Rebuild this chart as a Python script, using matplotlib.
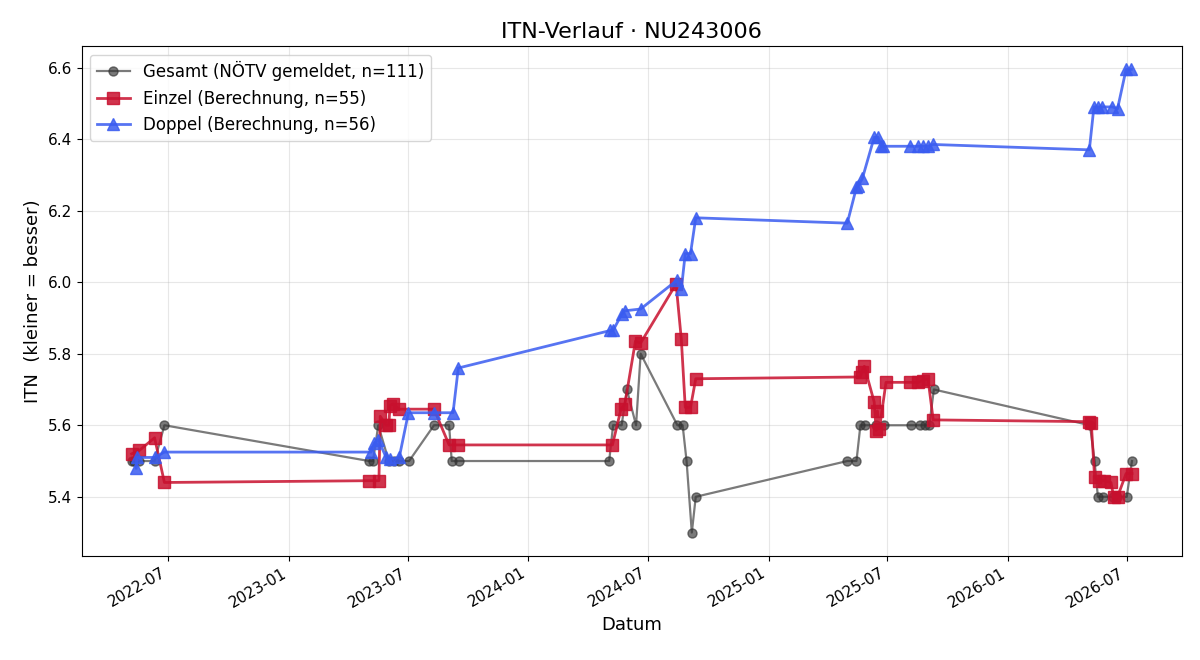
import pandas as pd
import matplotlib
matplotlib.use("Agg")
import matplotlib.pyplot as plt
import matplotlib.dates as mdates

# Gesamt (NÖTV gemeldet)
gesamt_dates = [
    "2022-05-06", "2022-05-10", "2022-05-18", "2022-06-10", "2022-06-25",
    "2023-05-03", "2023-05-09", "2023-05-17", "2023-06-02", "2023-06-10",
    "2023-06-18", "2023-07-03", "2023-08-10", "2023-09-02", "2023-09-06",
    "2023-09-17", "2024-05-03", "2024-05-09", "2024-05-22", "2024-05-30",
    "2024-06-13", "2024-06-20", "2024-08-15", "2024-08-23", "2024-08-29",
    "2024-09-06", "2024-09-12", "2025-05-01", "2025-05-15", "2025-05-21",
    "2025-05-28", "2025-06-14", "2025-06-26", "2025-08-06", "2025-08-20",
    "2025-08-28", "2025-09-03", "2025-09-10", "2026-05-06", "2026-05-13",
    "2026-05-18", "2026-05-26", "2026-06-10", "2026-06-16", "2026-07-01",
    "2026-07-09",
]
gesamt_itn = [
    5.5, 5.5, 5.5, 5.5, 5.6,
    5.5, 5.5, 5.6, 5.5, 5.5,
    5.5, 5.5, 5.6, 5.6, 5.5,
    5.5, 5.5, 5.6, 5.6, 5.7,
    5.6, 5.8, 5.6, 5.6, 5.5,
    5.3, 5.4, 5.5, 5.5, 5.6,
    5.6, 5.6, 5.6, 5.6, 5.6,
    5.6, 5.6, 5.7, 5.6, 5.5,
    5.4, 5.4, 5.4, 5.4, 5.4,
    5.5,
]

# Einzel (Berechnung)
einzel_dates = [
    "2022-05-06", "2022-05-18", "2022-06-10", "2022-06-25",
    "2023-05-03", "2023-05-18", "2023-05-20", "2023-05-29", "2023-06-02",
    "2023-06-04", "2023-06-08", "2023-06-18", "2023-08-10", "2023-09-02",
    "2023-09-16", "2024-05-08", "2024-05-21", "2024-05-27", "2024-06-12",
    "2024-06-20", "2024-08-13", "2024-08-21", "2024-08-27", "2024-09-04",
    "2024-09-12", "2025-05-21", "2025-05-23", "2025-05-27", "2025-06-11",
    "2025-06-14", "2025-06-16", "2025-06-19", "2025-06-29", "2025-08-05",
    "2025-08-17", "2025-08-24", "2025-09-01", "2025-09-09", "2026-05-05",
    "2026-05-08", "2026-05-13", "2026-05-19", "2026-05-27", "2026-06-07",
    "2026-06-11", "2026-06-17", "2026-06-30", "2026-07-09",
]
einzel_itn = [
    5.52, 5.53, 5.565, 5.44,
    5.445, 5.445, 5.625, 5.60, 5.60,
    5.655, 5.66, 5.645, 5.645, 5.545,
    5.545, 5.545, 5.645, 5.66, 5.835,
    5.83, 5.995, 5.84, 5.65, 5.65,
    5.73, 5.735, 5.75, 5.765, 5.665,
    5.585, 5.64, 5.59, 5.72, 5.72,
    5.72, 5.725, 5.73, 5.615, 5.61,
    5.605, 5.455, 5.445, 5.445, 5.44,
    5.40, 5.40, 5.465, 5.465,
]

# Doppel (Berechnung)
doppel_dates = [
    "2022-05-13", "2022-05-14", "2022-06-10", "2022-06-25",
    "2023-05-06", "2023-05-11", "2023-05-17", "2023-05-29", "2023-06-04",
    "2023-06-18", "2023-07-02", "2023-08-10", "2023-09-08", "2023-09-16",
    "2024-05-05", "2024-05-09", "2024-05-22", "2024-05-27", "2024-06-20",
    "2024-08-14", "2024-08-21", "2024-08-27", "2024-09-04", "2024-09-12",
    "2025-05-01", "2025-05-15", "2025-05-18", "2025-05-24", "2025-06-11",
    "2025-06-17", "2025-06-22", "2025-06-25", "2025-08-05", "2025-08-17",
    "2025-08-24", "2025-09-01", "2025-09-09", "2026-05-05", "2026-05-12",
    "2026-05-18", "2026-05-25", "2026-06-09", "2026-06-17", "2026-06-30",
    "2026-07-08",
]
doppel_itn = [
    5.48, 5.51, 5.51, 5.525,
    5.525, 5.55, 5.56, 5.51, 5.505,
    5.51, 5.635, 5.635, 5.635, 5.76,
    5.865, 5.865, 5.91, 5.92, 5.925,
    6.005, 5.98, 6.08, 6.08, 6.18,
    6.165, 6.265, 6.27, 6.29, 6.405,
    6.405, 6.38, 6.38, 6.38, 6.38,
    6.38, 6.38, 6.385, 6.37, 6.49,
    6.49, 6.49, 6.49, 6.485, 6.595,
    6.595,
]

fig, ax = plt.subplots(figsize=(12, 6.6), dpi=100)

ax.plot(pd.to_datetime(gesamt_dates), gesamt_itn, color="#333333", alpha=0.65,
        linewidth=1.6, marker="o", markersize=6.5,
        label="Gesamt (NÖTV gemeldet, n=111)")
ax.plot(pd.to_datetime(einzel_dates), einzel_itn, color="#c8102e", alpha=0.85,
        linewidth=2, marker="s", markersize=8,
        label="Einzel (Berechnung, n=55)")
ax.plot(pd.to_datetime(doppel_dates), doppel_itn, color="#3a5cf0", alpha=0.85,
        linewidth=2, marker="^", markersize=8,
        label="Doppel (Berechnung, n=56)")

ax.set_title("ITN-Verlauf · NU243006", fontsize=16)
ax.set_xlabel("Datum", fontsize=13)
ax.set_ylabel("ITN  (kleiner = besser)", fontsize=13)
ax.tick_params(labelsize=11)
ax.grid(True, alpha=0.3)
ax.xaxis.set_major_locator(mdates.MonthLocator(bymonth=[1, 7]))
ax.xaxis.set_major_formatter(mdates.DateFormatter("%Y-%m"))
ax.legend(loc="upper left", fontsize=12)
fig.autofmt_xdate()
fig.subplots_adjust(left=0.068, right=0.985, top=0.93, bottom=0.158)

fig.savefig("out.png", dpi=100)
